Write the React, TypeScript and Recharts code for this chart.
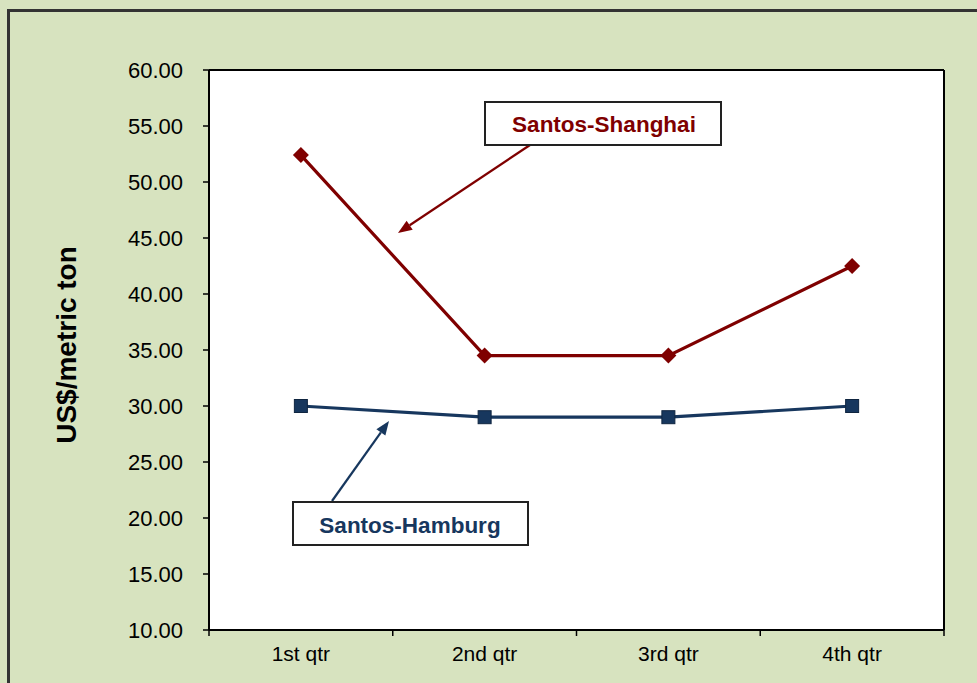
import React from "react";
import { ComposedChart, Line, XAxis, YAxis, CartesianGrid } from "recharts";

// Freight rates by quarter, US$ per metric ton
const QUARTERS = ["1st qtr", "2nd qtr", "3rd qtr", "4th qtr"];
const SANTOS_SHANGHAI = [52.4, 34.5, 34.5, 42.5];
const SANTOS_HAMBURG = [30.0, 29.0, 29.0, 30.0];
const Y_TICKS = [10, 15, 20, 25, 30, 35, 40, 45, 50, 55, 60];

const RED = "#7f0000";
const NAVY = "#17375e";
const FONT = '"Liberation Sans", Arial, sans-serif';

const W = 977;
const H = 683;

const chartData = QUARTERS.map((q, i) => ({
  quarter: q,
  shanghai: SANTOS_SHANGHAI[i],
  hamburg: SANTOS_HAMBURG[i],
}));

const Diamond = (props: any) => {
  const { cx, cy } = props;
  if (cx == null || cy == null) return <g />;
  const r = 8;
  return <polygon points={`${cx},${cy - r} ${cx + r},${cy} ${cx},${cy + r} ${cx - r},${cy}`} fill={RED} />;
};

const Square = (props: any) => {
  const { cx, cy } = props;
  if (cx == null || cy == null) return <g />;
  const s = 13;
  return <rect x={cx - s / 2} y={cy - s / 2} width={s} height={s} fill={NAVY} stroke="#0f2540" strokeWidth={1} />;
};

// category label in the middle of its band, tick marks on the band edges
const QuarterTick = (props: any) => {
  const { x, y, payload, index, width, visibleTicksCount } = props;
  const bw = width / (visibleTicksCount || QUARTERS.length);
  const left = x - bw / 2;
  const last = index === (visibleTicksCount || QUARTERS.length) - 1;
  return (
    <g>
      <line x1={left} y1={y} x2={left} y2={y + 6} stroke="#000" strokeWidth={1.5} />
      {last && <line x1={left + bw} y1={y} x2={left + bw} y2={y + 6} stroke="#000" strokeWidth={1.5} />}
      <text x={x} y={y + 16} dy="0.71em" textAnchor="middle" fontSize={21} fontFamily={FONT} fill="#000">
        {payload.value}
      </text>
    </g>
  );
};

// arrow with a filled head at (x2, y2)
function Arrow({ x1, y1, x2, y2, color }: { x1: number; y1: number; x2: number; y2: number; color: string }) {
  const a = Math.atan2(y2 - y1, x2 - x1);
  const len = 14;
  const half = 5.5;
  const bx = x2 - len * Math.cos(a);
  const by = y2 - len * Math.sin(a);
  const px = -Math.sin(a) * half;
  const py = Math.cos(a) * half;
  return (
    <g>
      <line x1={x1} y1={y1} x2={bx} y2={by} stroke={color} strokeWidth={2.2} />
      <polygon points={`${x2},${y2} ${bx + px},${by + py} ${bx - px},${by - py}`} fill={color} />
    </g>
  );
}

export default function App() {
  return (
    <div style={{ position: "absolute", left: 0, top: 0, width: W, height: H, overflow: "hidden", background: "#d7e3bf", fontFamily: FONT }}>
      <div style={{ position: "absolute", left: 7, top: 9, width: W, height: H, borderLeft: "3px solid #333", borderTop: "3px solid #333" }} />
      <div style={{ position: "absolute", left: 0, top: 0 }}>
        <ComposedChart width={W} height={H} data={chartData} margin={{ top: 69, right: 32, bottom: 0, left: 129 }}>
          <CartesianGrid horizontal={false} vertical={false} fill="#ffffff" xAxisId="cat" yAxisId="left" />
          <XAxis
            xAxisId="cat"
            dataKey="quarter"
            scale="band"
            height={53}
            interval={0}
            axisLine={{ stroke: "#000", strokeWidth: 2 }}
            tickLine={false}
            tickSize={0}
            tickMargin={0}
            tick={<QuarterTick />}
          />
          <XAxis
            xAxisId="top"
            orientation="top"
            dataKey="quarter"
            scale="band"
            height={1}
            tick={false}
            tickLine={false}
            axisLine={{ stroke: "#000", strokeWidth: 2 }}
          />
          <YAxis
            yAxisId="left"
            width={80}
            domain={[10, 60]}
            ticks={Y_TICKS}
            interval={0}
            tickFormatter={(v: number) => v.toFixed(2)}
            tickSize={6}
            tickMargin={20}
            tickLine={{ stroke: "#000", strokeWidth: 1.5 }}
            axisLine={{ stroke: "#000", strokeWidth: 2 }}
            tick={{ fontSize: 22, fill: "#000", fontFamily: FONT }}
          />
          <YAxis
            yAxisId="right"
            orientation="right"
            width={1}
            domain={[10, 60]}
            tick={false}
            tickLine={false}
            axisLine={{ stroke: "#000", strokeWidth: 2 }}
          />
          <Line
            xAxisId="cat"
            yAxisId="left"
            dataKey="shanghai"
            stroke={RED}
            strokeWidth={3.2}
            dot={<Diamond />}
            activeDot={false}
            isAnimationActive={false}
          />
          <Line
            xAxisId="cat"
            yAxisId="left"
            dataKey="hamburg"
            stroke={NAVY}
            strokeWidth={3.2}
            dot={<Square />}
            activeDot={false}
            isAnimationActive={false}
          />
        </ComposedChart>
      </div>
      <svg width={W} height={H} style={{ position: "absolute", left: 0, top: 0, pointerEvents: "none" }}>
        <text
          x={66}
          y={345}
          transform="rotate(-90 66 345)"
          textAnchor="middle"
          dominantBaseline="central"
          fontFamily={FONT}
          fontWeight="bold"
          fontSize={28}
          fill="#000"
        >
          US$/metric ton
        </text>

        <Arrow x1={530} y1={145} x2={398} y2={233} color={RED} />
        <rect x={485} y={102} width={236} height={43} fill="#fff" stroke="#222" strokeWidth={2} />
        <text x={604} y={124} textAnchor="middle" dominantBaseline="central" fontFamily={FONT} fontWeight="bold" fontSize={22.5} fill={RED}>
          Santos-Shanghai
        </text>

        <Arrow x1={332} y1={501} x2={389} y2={421} color={NAVY} />
        <rect x={293} y={502} width={235} height={43} fill="#fff" stroke="#222" strokeWidth={2} />
        <text x={410} y={525} textAnchor="middle" dominantBaseline="central" fontFamily={FONT} fontWeight="bold" fontSize={22.5} fill={NAVY}>
          Santos-Hamburg
        </text>
      </svg>
    </div>
  );
}
